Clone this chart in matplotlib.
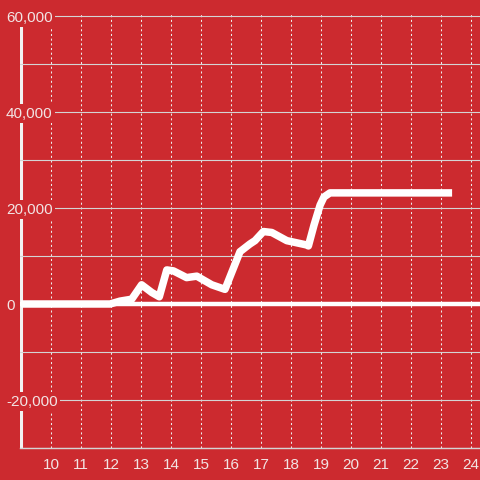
import matplotlib
matplotlib.use('Agg')
import matplotlib.pyplot as plt
from matplotlib.ticker import MultipleLocator, FuncFormatter

plt.rcParams['font.family'] = ['Liberation Sans', 'DejaVu Sans']

# hours of day vs. cumulative value
hours = [9.0, 11.63, 11.97, 12.3, 12.69, 13.02, 13.36, 13.61, 13.86, 14.08, 14.52,
         14.86, 15.36, 15.8, 16.3, 16.63, 16.8, 17.08, 17.36, 17.86, 18.52, 18.58,
         18.77, 18.97, 19.1, 19.3, 23.37]
values = [0, 0, 0, 600, 1000, 4000, 2400, 1500, 7100, 6900, 5500,
          5800, 4000, 3050, 10900, 12500, 13200, 15100, 14900, 13200, 12300, 12100,
          16500, 20600, 22300, 23150, 23150]
x_ticks = list(range(10, 25))
y_ticks = [-20000, 0, 20000, 40000, 60000]

bg = '#cc2a2f'
txt = '#f2e4e4'

fig = plt.figure(figsize=(4.8, 4.8), dpi=100)
fig.patch.set_facecolor(bg)
ax = fig.add_axes([20/480, 32/480, 460/480, 434/480])
ax.set_facecolor(bg)

ax.set_xlim(8.967, 24.3)
ax.set_ylim(-30000, 60417)

ax.set_xticks(x_ticks)
ax.set_yticks(y_ticks)
ax.yaxis.set_minor_locator(MultipleLocator(10000))
ax.yaxis.set_major_formatter(FuncFormatter(lambda v, p: f'{int(v):,}'))

ax.grid(axis='y', which='both', color='#d4d4d4', linewidth=0.8, linestyle='-')
ax.grid(axis='x', which='major', color='#ececec', linewidth=0.75, linestyle=(0, (2, 2.5)))

for s in ['top', 'right', 'left']:
    ax.spines[s].set_visible(False)
ax.spines['bottom'].set_color('#d4d4d4')
ax.spines['bottom'].set_linewidth(1)

ax.tick_params(axis='x', length=0, pad=7, labelsize=11, labelcolor=txt)
ax.tick_params(axis='y', which='both', length=0, pad=10, labelsize=11, labelcolor=txt)
for lbl in ax.get_yticklabels():
    lbl.set_horizontalalignment('left')
    lbl.set_bbox(dict(facecolor=bg, edgecolor='none', pad=1.5))

ax.axvline(hours[0], color='#f2f2f2', linewidth=2.2, zorder=1.5)
ax.axhline(0, color='white', linewidth=3.2, zorder=1.8)
ax.plot(hours, values, color='white', linewidth=5.4, solid_joinstyle='round',
        solid_capstyle='butt', zorder=2)

plt.savefig('out.png', dpi=100, facecolor=bg)
